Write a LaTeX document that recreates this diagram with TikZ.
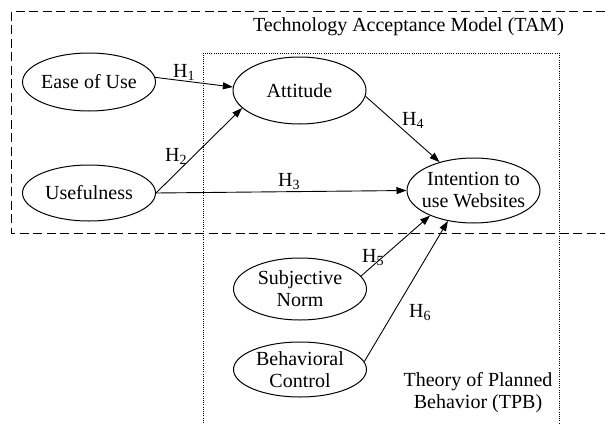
\documentclass[tikz,border=0pt]{standalone}
\usepackage{fontspec}
\setmainfont{Liberation Serif}
\usetikzlibrary{shapes.geometric,arrows.meta}
\begin{document}
\begin{tikzpicture}[x=1pt,y=-1pt,
  every node/.style={font=\fontsize{20}{22}\selectfont},
  var/.style={ellipse, draw, line width=1pt, minimum width=133pt, inner xsep=-15pt, inner ysep=-4pt, align=center},
  link/.style={line width=0.9pt, -{Triangle[length=10pt,width=7pt]}},
  hyp/.style={anchor=base west, inner sep=0pt},
  tamframe/.style={line width=1pt, dash pattern=on 9pt off 4.5pt},
  tpbframe/.style={line width=1pt, dash pattern=on 1pt off 1.2pt}]
\useasboundingbox (0,0) rectangle (605,423);
% frames
\draw[tamframe] (605,11) -- (11.5,11) -- (11.5,233) -- (605,233);
\draw[tpbframe] (203,423) -- (203,53) -- (559,53) -- (559,423);
% frame labels
\node[anchor=base, inner sep=0pt] (tamlabel) at (408.5,31) {Technology Acceptance Model (TAM)};
\node[align=center, inner sep=0pt] (tpblabel) at (478,393) {Theory of Planned\\Behavior (TPB)};
% constructs
\node[var, minimum height=58pt] (eou) at (89,82) {Ease of Use};
\node[var, minimum height=67pt] (att) at (299.5,90.5) {Attitude};
\node[var, minimum height=56pt] (use) at (89,193) {Usefulness};
\node[var, minimum height=65pt] (int) at (473.5,190.5) {Intention to\\use Websites};
\node[var, minimum height=62pt] (sn) at (300,289) {Subjective\\Norm};
\node[var, minimum height=55pt] (bc) at (300,369.5) {Behavioral\\Control};
% paths
\draw[link] (eou.4) -- (att.177);
\draw[link] (use.east) -- (att.197);
\draw[link] (use.east) -- (int.west);
\draw[link] (att.-5) -- (int.140);
\draw[link] (sn.12) -- (int.210);
\draw[link] (bc.7) -- (int.230);
% hypothesis labels
\node[hyp] (h1) at (173,77) {H\textsubscript{1}};
\node[hyp] (h2) at (165,161) {H\textsubscript{2}};
\node[hyp] (h3) at (278,186) {H\textsubscript{3}};
\node[hyp] (h4) at (402,125) {H\textsubscript{4}};
\node[hyp] (h5) at (362,262) {H\textsubscript{5}};
\node[hyp] (h6) at (409,317) {H\textsubscript{6}};
\end{tikzpicture}
\end{document}
